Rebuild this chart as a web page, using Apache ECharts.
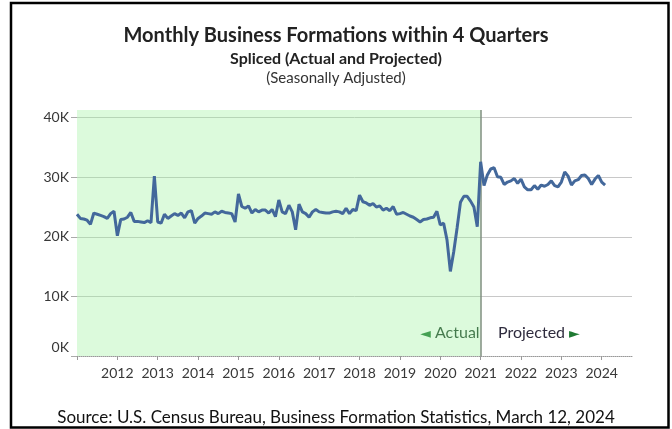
<!DOCTYPE html>
<html>
<head>
<meta charset="utf-8">
<script src="https://cdn.jsdelivr.net/npm/echarts@6/dist/echarts.min.js"></script>
<style>html,body{margin:0;padding:0;background:#fff}#c{width:672px;height:429px}</style>
</head>
<body>
<div id="c"></div>
<script>
// Monthly categories, Jan 2011 .. Oct 2024 (axis runs past the last data point)
const startYear = 2011, endYear = 2024, lastMonthOfAxis = 10;
const months = [];
for (let y = startYear; y <= endYear; y++) {
  for (let m = 1; m <= 12; m++) {
    if (y === endYear && m > lastMonthOfAxis) break;
    months.push(y + '-' + String(m).padStart(2, '0'));
  }
}
const yTicks = [0, 10, 20, 30, 40];
const actualStart = '2011-01';
const projectedStart = '2021-01';

// Business formations within 4 quarters, thousands
const formations = [
  23.8,23.1,23.0,22.8,22.1,24.0,23.8,23.6,23.4,23.1,23.9,24.3, // 2011
  20.2,22.9,23.0,23.3,24.1,22.6,22.6,22.5,22.4,22.7,22.4,30.2, // 2012
  22.5,22.3,23.8,23.1,23.5,23.9,23.6,24.0,23.2,24.2,24.4,22.3, // 2013
  23.1,23.5,24.0,23.9,23.8,24.2,23.9,24.3,24.1,24.0,23.9,22.5, // 2014
  27.2,25.1,24.8,25.2,24.0,24.6,24.2,24.5,24.5,24.0,24.6,23.4, // 2015
  26.2,24.2,23.9,25.3,24.2,21.2,25.5,24.2,23.9,23.3,24.2,24.6, // 2016
  24.2,24.1,24.0,24.0,24.2,24.3,24.2,23.9,24.8,23.9,24.6,24.4, // 2017
  27.0,25.9,25.7,25.3,25.6,25.0,25.2,24.5,24.8,24.4,25.1,23.8, // 2018
  23.9,24.1,23.8,23.5,23.3,22.9,22.5,22.9,23.0,23.2,23.3,24.3, // 2019
  22.0,22.3,19.5,14.2,17.5,21.5,25.8,26.8,26.8,26.0,25.0,21.7, // 2020
  32.6,28.6,30.4,31.4,31.6,30.1,30.0,28.8,29.2,29.4,29.8,29.0, // 2021
  29.7,28.4,27.9,27.9,28.6,28.0,28.7,28.5,28.8,29.4,28.6,28.4, // 2022
  29.2,30.9,30.2,28.7,29.4,29.6,30.3,30.4,29.8,28.8,29.7,30.3, // 2023
  29.2,28.7                                                    // 2024
];

const FONT = 'Lato, "Open Sans", sans-serif';
const chart = echarts.init(document.getElementById('c'), null, {renderer: 'canvas'});
const grey = '#c8c8c8';
chart.setOption({
  animation: false,
  backgroundColor: '#fff',
  title: [
    {text: 'Monthly Business Formations within 4 Quarters', left: 'center', top: 21,
     textStyle: {fontFamily: FONT, fontSize: 20, fontWeight: 'bold', color: '#222'}},
    {text: 'Spliced (Actual and Projected)', left: 'center', top: 46,
     textStyle: {fontFamily: FONT, fontSize: 16, fontWeight: 'bold', color: '#222'}},
    {text: '(Seasonally Adjusted)', left: 'center', top: 66,
     textStyle: {fontFamily: FONT, fontSize: 15, fontWeight: 'normal', color: '#333'}},
    {text: 'Source: U.S. Census Bureau, Business Formation Statistics, March 12, 2024', left: 'center', top: 404,
     textStyle: {fontFamily: FONT, fontSize: 17, fontWeight: 'normal', color: '#111'}}
  ],
  grid: {left: 77, right: 40, top: 110, bottom: 73, containLabel: false},
  xAxis: {
    type: 'category',
    data: months,
    boundaryGap: false,
    axisLine: {show: true, lineStyle: {color: '#999', type: 'dotted', width: 1}},
    axisTick: {show: true, length: 4, lineStyle: {color: '#999'},
      interval: (i, v) => v.endsWith('-01')},
    axisLabel: {
      interval: (i, v) => v.endsWith('-01') && v.slice(0, 4) !== String(startYear),
      formatter: v => v.slice(0, 4),
      margin: 10,
      fontFamily: FONT, fontSize: 14, color: '#383838'
    },
    splitLine: {show: false}
  },
  yAxis: {
    type: 'value',
    min: 0, max: 41.3, interval: 10,
    axisLine: {show: false},
    axisTick: {show: true, length: 6, customValues: yTicks, lineStyle: {color: '#aaa'}},
    axisLabel: {
      customValues: yTicks,
      margin: 8,
      fontFamily: FONT, fontSize: 14, color: '#383838',
      formatter: v => (v === 0 ? '{z|0K}' : v + 'K'),
      rich: {z: {fontFamily: FONT, fontSize: 14, color: '#383838', padding: [0, 0, 18, 0]}}
    },
    splitLine: {show: true, lineStyle: {color: ['transparent', grey, grey, grey, grey, 'transparent'], width: 1}}
  },
  series: [{
    type: 'line',
    data: formations,
    symbol: 'none',
    smooth: false,
    lineStyle: {color: '#43689b', width: 3},
    z: 5,
    markArea: {
      silent: true,
      itemStyle: {color: 'rgba(150,240,150,0.33)'},
      data: [[{xAxis: actualStart}, {xAxis: projectedStart}]]
    },
    markLine: {
      silent: true,
      symbol: 'none',
      label: {show: false},
      lineStyle: {color: '#7f8f7f', width: 1.5, type: 'solid'},
      data: [{xAxis: projectedStart}]
    }
  }],
  graphic: [
    {type: 'text', left: 420, top: 327, style: {text: '◄', fontFamily: '"DejaVu Sans"', fontSize: 14, fill: '#1f7a33'}},
    {type: 'text', left: 435, top: 325, style: {text: 'Actual', fontFamily: FONT, fontSize: 16, fontWeight: 'normal', fill: '#1d3f29'}},
    {type: 'text', left: 498, top: 325, style: {text: 'Projected', fontFamily: FONT, fontSize: 16, fontWeight: 'normal', fill: '#2f2c3e'}},
    {type: 'text', left: 569, top: 327, style: {text: '►', fontFamily: '"DejaVu Sans"', fontSize: 14, fill: '#1f7a33'}},
    {type: 'rect', shape: {x: 11, y: 3, width: 657.5, height: 424.5},
     style: {fill: 'none', stroke: '#000', lineWidth: 2.5}, silent: true}
  ]
});
</script>
</body>
</html>
